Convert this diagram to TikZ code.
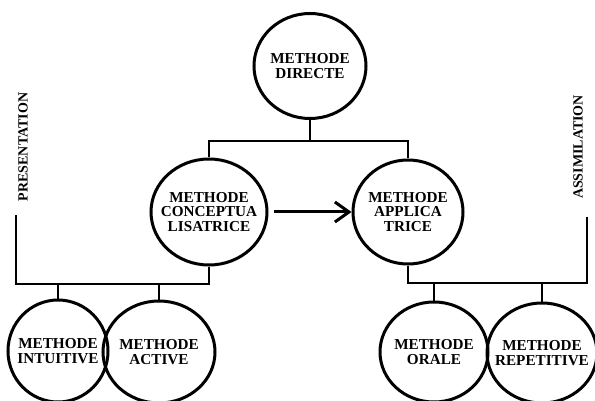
\documentclass[tikz,border=0pt]{standalone}
\usepackage{fontspec}
\setmainfont{Liberation Serif}
\usetikzlibrary{arrows.meta,shapes.geometric}

\tikzset{every picture/.style={line width=0.75pt}}
\tikzset{
  methode/.style={ellipse, draw, line width=1.5pt, minimum width=55pt, minimum height=52pt,
    inner xsep=-4pt, inner ysep=0pt, align=center, font=\bfseries\fontsize{7.6}{7.4}\selectfont},
  bus/.style={line width=1.3pt},
  flow/.style={line width=1.5pt, -{Straight Barb[length=7pt,width=10pt,line width=1.5pt]}},
  side/.style={rotate=90, font=\bfseries\fontsize{7}{8}\selectfont, inner sep=0pt}
}

\begin{document}
\begin{tikzpicture}[x=0.5pt,y=0.5pt,yscale=-1,xscale=1]
\useasboundingbox (0,0) rectangle (595,401);

%Circles
\node [methode, minimum width=56pt, minimum height=52.5pt] (direct) at (310,66) {METHODE\\DIRECTE};
\node [methode, minimum width=58pt, minimum height=53pt] (conc) at (209,212) {METHODE\\CONCEPTUA\\LISATRICE};
\node [methode] (appl) at (408,212) {METHODE\\APPLICA\\TRICE};
\node [methode, minimum width=50pt, minimum height=51pt] (intu) at (58,351) {METHODE\\INTUITIVE};
\node [methode, minimum width=56pt, minimum height=51pt] (acti) at (159,352) {METHODE\\ACTIVE};
\node [methode, minimum width=54pt, minimum height=50pt] (oral) at (434,352) {METHODE\\ORALE};
\node [methode, minimum width=54pt, minimum height=50pt] (repe) at (542,353) {METHODE\\REPETITIVE};

%Side labels
\node [side] (pres) at (23,147) {PRESENTATION};
\node [side] (assi) at (578,147) {ASSIMILATION};

%Top bus
\coordinate (topbus) at (310,141);
\draw [bus] (direct.south) -- (topbus);
\draw [bus] (conc.north) |- (topbus) -| (appl.north);

%Left bus
\coordinate (lcorner) at (16,284);
\coordinate (lend) at (16,215);
\draw [bus] (conc.south) |- (lcorner) -- (lend);
\draw [bus] (intu.north) -- (intu.north |- lcorner);
\draw [bus] (acti.north) -- (acti.north |- lcorner);

%Right bus
\coordinate (rcorner) at (587,283);
\coordinate (rend) at (587,217);
\draw [bus] (appl.south) |- (rcorner) -- (rend);
\draw [bus] (oral.north) -- (oral.north |- rcorner);
\draw [bus] (repe.north) -- (repe.north |- rcorner);

%Arrow
\draw [flow] ([xshift=2.5pt]conc.east) -- (appl.west);

\end{tikzpicture}
\end{document}
